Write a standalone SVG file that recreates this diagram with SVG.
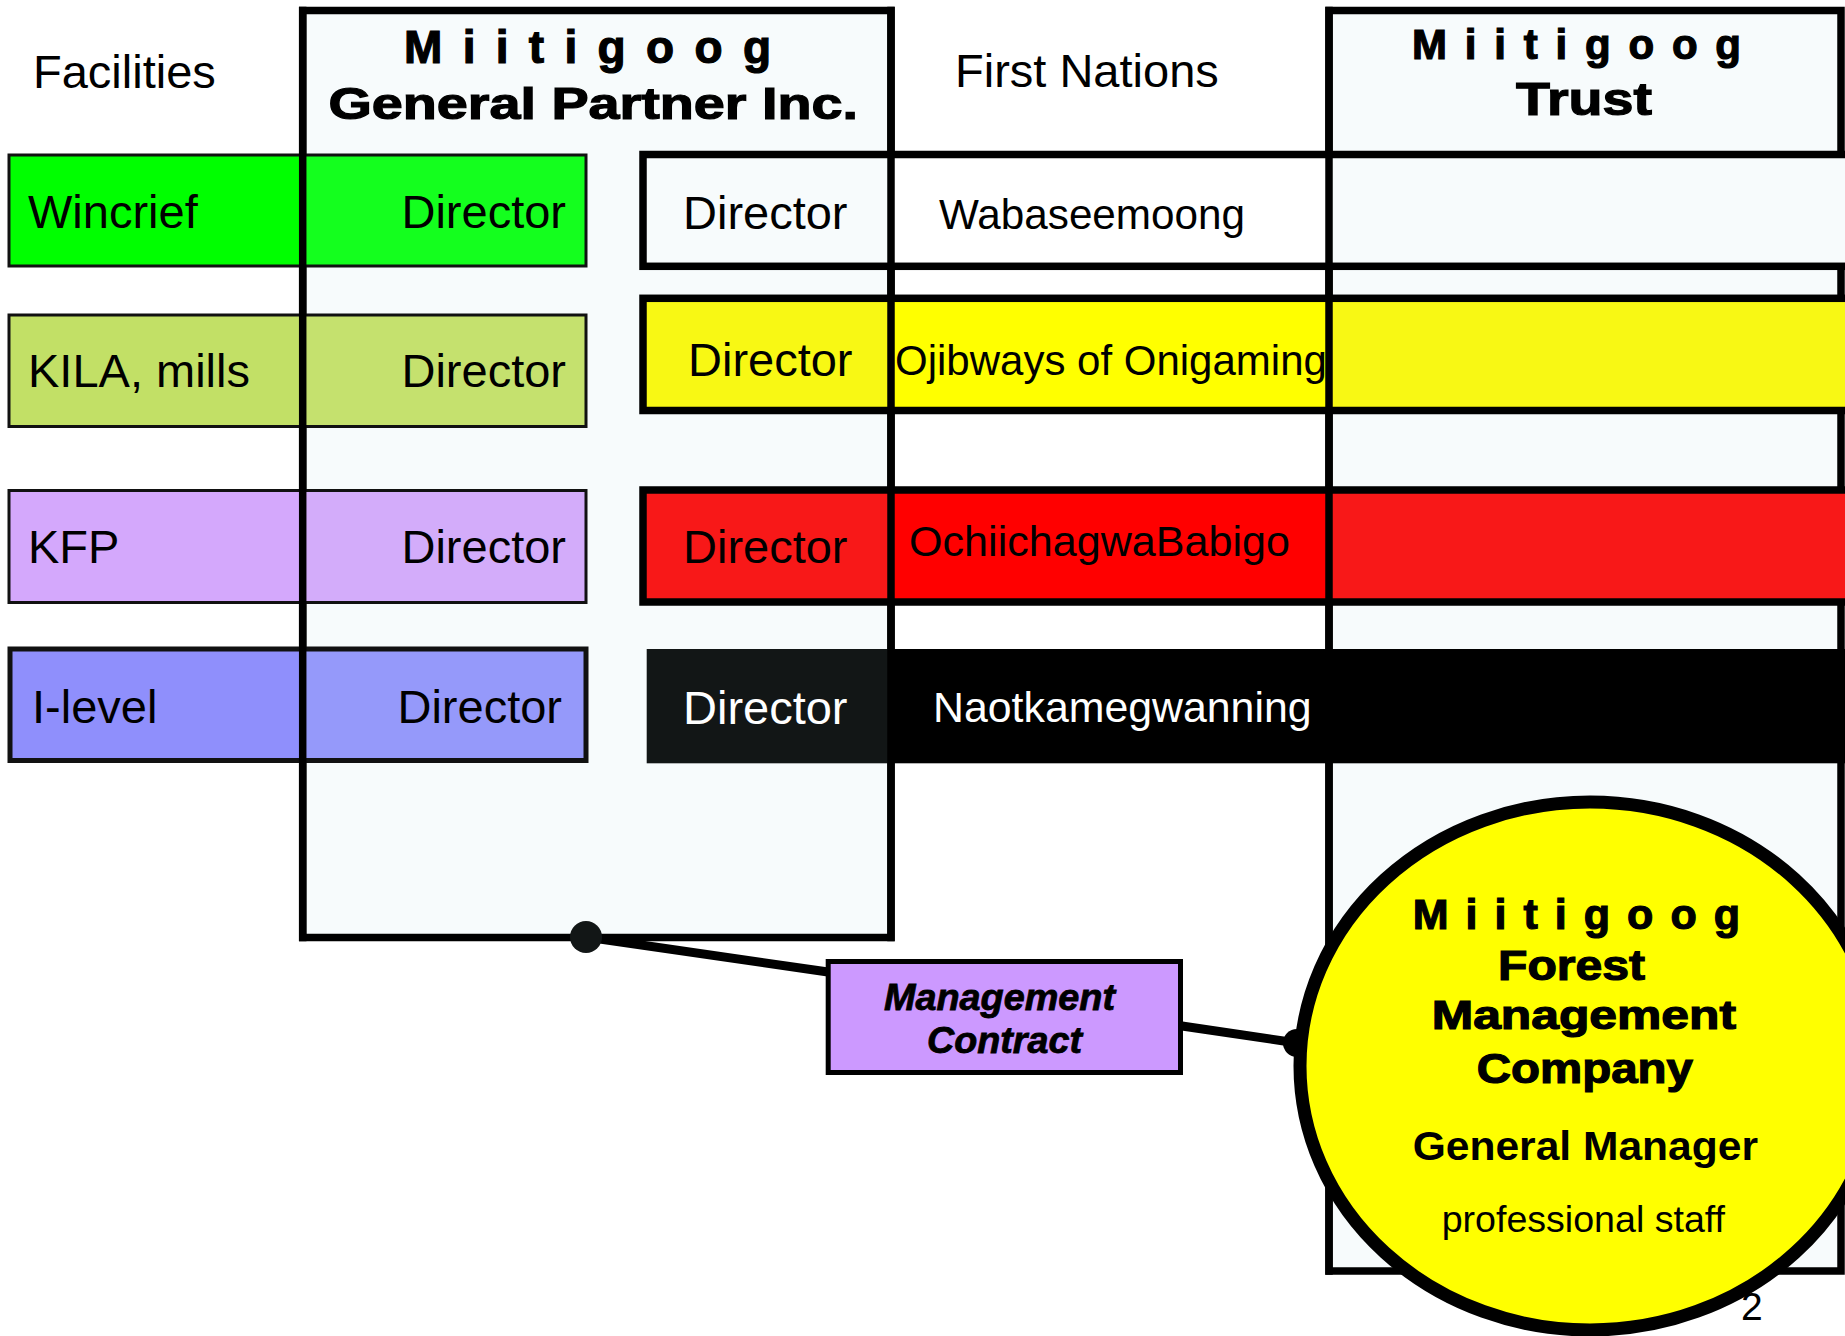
<svg xmlns="http://www.w3.org/2000/svg" width="1845" height="1336" viewBox="0 0 1845 1336">
<style>
  text { font-family: "Liberation Sans", Arial, sans-serif; fill: #000; }
  .lbl { font-size: 47px; }
  .fn { font-size: 42px; }
  .hdr { font-weight: bold; stroke: #000; stroke-width: 1.2px; }
  .mc { font-size: 36px; font-weight: bold; font-style: italic; stroke: #000; stroke-width: 0.8px; }
  .col { fill: #f7fbfc; stroke: #000; stroke-width: 7.5; }
  .fac { fill: none; stroke: #111; stroke-width: 3; }
  .row { fill: none; stroke: #000; stroke-width: 7.5; }
  .vline { stroke: #000; stroke-width: 7.5; }
  .conn { stroke: #000; stroke-width: 9; fill: none; }
</style>
<rect width="1845" height="1336" fill="#ffffff"/>

<g id="gp-column">
  <rect class="col" x="302.7" y="10.5" width="588.3" height="927"/>
  <text class="hdr" x="404" y="63" font-size="46" textLength="367" lengthAdjust="spacing">M i i t i g o o g</text>
  <text class="hdr" x="328.5" y="119" font-size="45" textLength="529.5" lengthAdjust="spacingAndGlyphs">General Partner Inc.</text>
</g>

<g id="trust-column">
  <rect class="col" x="1329" y="10.5" width="512" height="1260.5"/>
  <text class="hdr" x="1412" y="59" font-size="42" textLength="329" lengthAdjust="spacing">M i i t i g o o g</text>
  <text class="hdr" x="1516" y="115" font-size="46" textLength="136" lengthAdjust="spacingAndGlyphs">Trust</text>
</g>

<g id="headers">
  <text class="lbl" x="33" y="88">Facilities</text>
  <text class="lbl" x="955" y="87">First Nations</text>
</g>

<g id="wincrief">
  <rect x="9" y="155" width="293.7" height="111" fill="#00ff00"/>
  <rect x="302.7" y="155" width="283.3" height="111" fill="#14ff1e"/>
  <rect class="fac" x="9" y="155" width="577" height="111"/>
  <text class="lbl" x="28" y="228">Wincrief</text>
  <text class="lbl" x="566" y="228" text-anchor="end">Director</text>
</g>

<g id="kila-mills">
  <rect x="9" y="315" width="293.7" height="111.5" fill="#c2e066"/>
  <rect x="302.7" y="315" width="283.3" height="111.5" fill="#c5e16e"/>
  <rect class="fac" x="9" y="315" width="577" height="111.5"/>
  <text class="lbl" x="28" y="387">KILA, mills</text>
  <text class="lbl" x="566" y="387" text-anchor="end">Director</text>
</g>

<g id="kfp">
  <rect x="9" y="490.5" width="293.7" height="112" fill="#d4a8fc"/>
  <rect x="302.7" y="490.5" width="283.3" height="112" fill="#d3acfa"/>
  <rect class="fac" x="9" y="490.5" width="577" height="112"/>
  <text class="lbl" x="28" y="563">KFP</text>
  <text class="lbl" x="566" y="563" text-anchor="end">Director</text>
</g>

<g id="i-level">
  <rect x="10" y="649" width="292.7" height="111.5" fill="#8f8ffc"/>
  <rect x="302.7" y="649" width="283.3" height="111.5" fill="#9599fa"/>
  <rect x="10" y="649" width="576" height="111.5" fill="none" stroke="#111" stroke-width="5"/>
  <text class="lbl" x="32" y="723">I-level</text>
  <text class="lbl" x="562" y="723" text-anchor="end">Director</text>
</g>

<g id="wabaseemoong">
  <rect x="643" y="154.5" width="248" height="111.8" fill="#f7fbfc"/>
  <rect x="891" y="154.5" width="438" height="111.8" fill="#ffffff"/>
  <rect x="1329" y="154.5" width="530" height="111.8" fill="#f7fbfc"/>
  <rect class="row" x="643" y="154.5" width="1220" height="111.8"/>
  <text class="lbl" x="683" y="229">Director</text>
  <text class="fn" x="939" y="228.5" textLength="306" lengthAdjust="spacingAndGlyphs">Wabaseemoong</text>
</g>

<g id="ojibways-of-onigaming">
  <rect x="643" y="298.3" width="248" height="112.2" fill="#f8f814"/>
  <rect x="891" y="298.3" width="438" height="112.2" fill="#ffff00"/>
  <rect x="1329" y="298.3" width="530" height="112.2" fill="#f8f814"/>
  <rect class="row" x="643" y="298.3" width="1220" height="112.2"/>
  <text class="lbl" x="688" y="376">Director</text>
  <text class="fn" x="895" y="375">Ojibways of Onigaming</text>
</g>

<g id="ochiichagwababigo">
  <rect x="643" y="490" width="248" height="112" fill="#f81818"/>
  <rect x="891" y="490" width="438" height="112" fill="#ff0000"/>
  <rect x="1329" y="490" width="530" height="112" fill="#f81818"/>
  <rect class="row" x="643" y="490" width="1220" height="112"/>
  <text class="lbl" x="683" y="563">Director</text>
  <text x="909" y="556" font-size="43" textLength="381" lengthAdjust="spacingAndGlyphs">OchiichagwaBabigo</text>
</g>

<g id="naotkamegwanning">
  <rect x="646.7" y="649" width="244.3" height="114.3" fill="#121616"/>
  <rect x="891" y="649" width="960" height="114.3" fill="#000000"/>
  <text class="lbl" x="683" y="724" style="fill:#ffffff">Director</text>
  <text x="933" y="722" font-size="42" textLength="378.6" lengthAdjust="spacingAndGlyphs" style="fill:#ffffff">Naotkamegwanning</text>
</g>

<g id="column-borders">
  <line class="vline" x1="302.7" y1="6.75" x2="302.7" y2="941.25"/>
  <line class="vline" x1="891" y1="6.75" x2="891" y2="941.25"/>
  <line class="vline" x1="1329" y1="6.75" x2="1329" y2="1274.75"/>
</g>

<g id="connectors">
  <line class="conn" x1="586" y1="937" x2="828" y2="972"/>
  <line class="conn" x1="1182" y1="1026" x2="1297" y2="1043"/>
  <circle cx="586" cy="937" r="16" fill="#121616"/>
  <circle cx="1297" cy="1043" r="14" fill="#000000"/>
</g>

<g id="management-contract">
  <rect x="828.2" y="961.5" width="352.3" height="111" fill="#cc99ff" stroke="#000" stroke-width="5"/>
  <text class="mc" x="884" y="1010" textLength="231" lengthAdjust="spacingAndGlyphs">Management</text>
  <text class="mc" x="927" y="1053" textLength="155" lengthAdjust="spacingAndGlyphs">Contract</text>
</g>

<g id="forest-management-company">
  <ellipse cx="1590" cy="1066" rx="290" ry="264" fill="#ffff00" stroke="#000" stroke-width="13"/>
  <text class="hdr" x="1412.7" y="929" font-size="43" textLength="327.3" lengthAdjust="spacing">M i i t i g o o g</text>
  <text class="hdr" x="1498" y="980" font-size="42" textLength="147" lengthAdjust="spacingAndGlyphs">Forest</text>
  <text class="hdr" x="1431.7" y="1029.3" font-size="40" textLength="304.3" lengthAdjust="spacingAndGlyphs">Management</text>
  <text class="hdr" x="1476.7" y="1083.3" font-size="42" textLength="216.3" lengthAdjust="spacingAndGlyphs">Company</text>
  <text x="1412.7" y="1160" font-size="41" font-weight="bold" textLength="345.3" lengthAdjust="spacingAndGlyphs">General Manager</text>
  <text x="1441.7" y="1231.7" font-size="37" textLength="283.3" lengthAdjust="spacingAndGlyphs">professional staff</text>
</g>

<g id="page-number">
  <text x="1741" y="1320" font-size="39">2</text>
</g>
</svg>
